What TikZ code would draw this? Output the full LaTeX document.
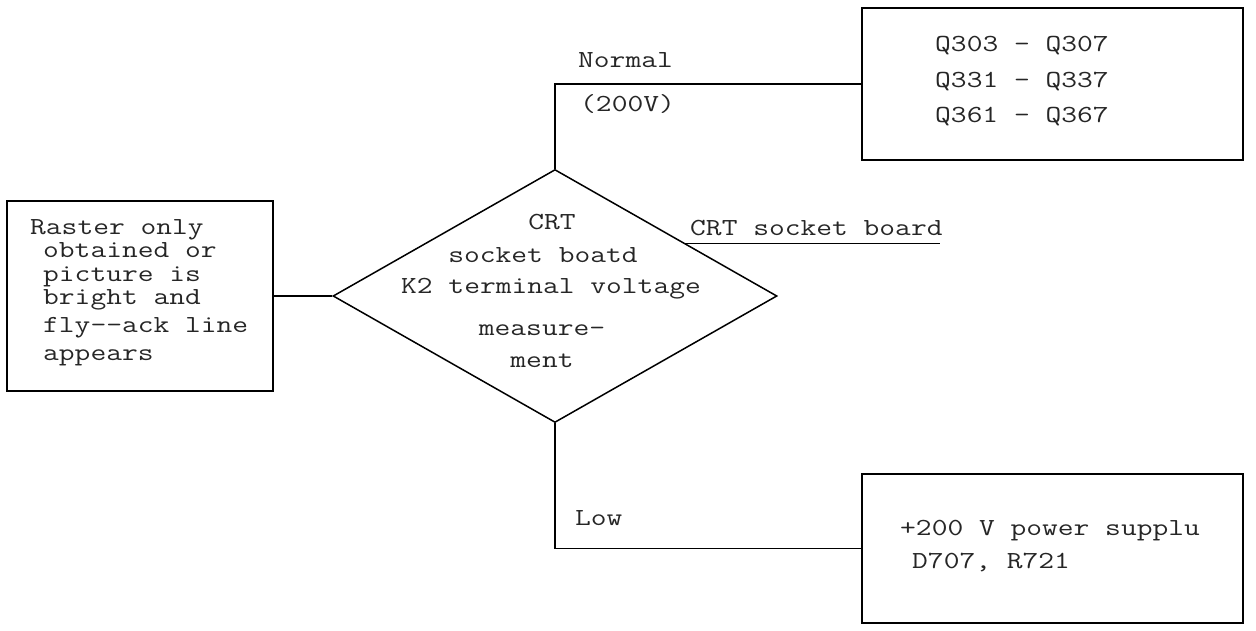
\documentclass[tikz,border=0pt]{standalone}
\usepackage{fontspec}
\newfontfamily\tw[FakeStretch=1.25]{Latin Modern Mono}
\usetikzlibrary{shapes.geometric}
\begin{document}
\begin{tikzpicture}[x=1pt,y=-1pt,
  box/.style={draw, line width=1.7pt, inner sep=0pt, minimum width=#1},
  txt/.style={inner sep=0pt, anchor=base west, font=\tw\fontsize{24.5}{24.5}\selectfont, text=black!85},
  ctxt/.style={inner sep=0pt, anchor=base, font=\tw\fontsize{24.5}{24.5}\selectfont, text=black!85},
  wire/.style={draw, line width=1.5pt}]
\useasboundingbox (0,0) rectangle (1256,631);
% boxes
\node[box=266pt, minimum height=190pt] (left) at (140,296) {};
\node[box=381pt, minimum height=152pt] (qbox) at (1052.5,84) {};
\node[box=381pt, minimum height=149pt] (pbox) at (1052.5,548.5) {};
\node[draw, diamond, line width=1.5pt, inner sep=0pt, minimum width=444pt, minimum height=253pt] (dia) at (555,296) {};
% left box text
\node[txt] (l1) at (30,235) {Raster only};
\node[txt] (l2) at (43,258) {obtained or};
\node[txt] (l3) at (43,281) {picture is};
\node[txt] (l4) at (43,305) {bright and};
\node[txt] (l5) at (43,332) {fly-{}-ack line};
\node[txt] (l6) at (43,360) {appears};
% diamond text
\node[ctxt] (d1) at (552,230) {CRT};
\node[ctxt] (d2) at (543,262) {socket boatd};
\node[ctxt] (d3) at (551,293) {K2 terminal voltage};
\node[ctxt] (d4) at (542,335) {measure-};
\node[ctxt] (d5) at (542,367) {ment};
% top right text
\node[txt] (q1) at (935,52) {Q303 - Q307};
\node[txt] (q2) at (935,88) {Q331 - Q337};
\node[txt] (q3) at (935,123) {Q361 - Q367};
% bottom right text
\node[txt] (p1) at (900,535) {+200 V power supplu};
\node[txt] (p2) at (912,568) {D707, R721};
% branch labels
\node[txt] (normal) at (578,68) {Normal};
\node[txt] (v200) at (580,112) {(200V)};
\node[txt] (low) at (575,525) {Low};
\node[txt] (sock) at (690,236) {CRT socket board};
% connectors
\draw[wire] (left.east) -- (dia.west);
\draw[wire] (dia.north) |- (qbox.west);
\draw[wire] (dia.south) |- (pbox.west);
\coordinate (sockend) at (940,244);
\draw[wire] (dia.22) -- (dia.22 -| sockend);
\end{tikzpicture}
\end{document}
